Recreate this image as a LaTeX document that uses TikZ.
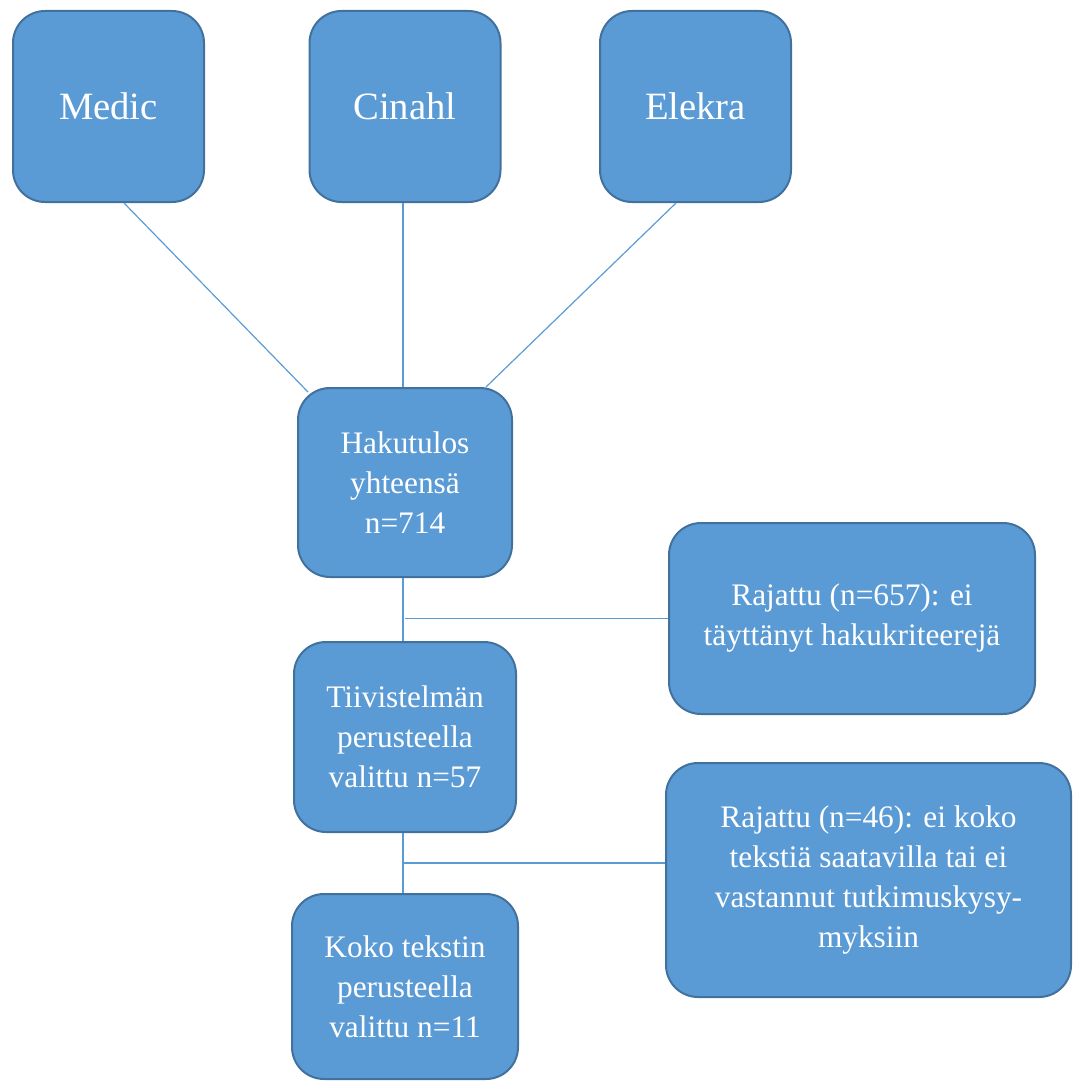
\documentclass[tikz,border=0pt]{standalone}
\usepackage{fontspec}
\setmainfont{Liberation Serif}
\usetikzlibrary{calc}
\definecolor{boxfill}{HTML}{5B9BD5}
\definecolor{boxline}{HTML}{41719C}
\def\px{0.75pt}

\tikzset{
  box/.style={draw=boxline, line width=1.5pt, fill=boxfill, rounded corners=24pt,
    text=white, align=center, inner sep=0pt,
    font=\fontsize{23.5}{30}\selectfont},
  dbbox/.style={box, minimum width=191*\px, minimum height=191*\px,
    font=\fontsize{29}{34}\selectfont},
  link/.style={draw=boxfill, line width=0.9pt}
}

\begin{document}
\begin{tikzpicture}[x=\px,y=-\px]
\useasboundingbox (0,0) rectangle (1075,1081);

% databases
\node[dbbox] (medic) at (108.5,106.5) {Medic};
\node[dbbox] (cinahl) at (405,106.5) {Cinahl};
\node[dbbox] (elekra) at (695.5,106.5) {Elekra};

% flow
\node[box, minimum width=214*\px, minimum height=189*\px] (hak) at (405,482.5) {Hakutulos\\yhteensä\\n=714};
\node[box, minimum width=222*\px, minimum height=190*\px] (tiiv) at (405,737) {Tiivistelmän\\perusteella\\valittu n=57};
\node[box, minimum width=226*\px, minimum height=185*\px] (koko) at (405,986.5) {Koko tekstin\\perusteella\\valittu n=11};

% rajatut
\node[box, minimum width=366*\px, minimum height=191*\px] (raj1) at (852,618.5) {Rajattu (n=657): ei\\täyttänyt hakukriteerejä};
\node[box, minimum width=405*\px, minimum height=234*\px] (raj2) at (868.5,880) {Rajattu (n=46): ei koko\\tekstiä saatavilla tai ei\\vastannut tutkimuskysy-\\myksiin};

\draw[link] ($(medic.south)+(15.5,0)$) -- ($(hak.north west)+(11,5)$);
\draw[link] ($(cinahl.south)+(-2,0)$) -- ($(hak.north)+(-2,0)$);
\draw[link] ($(elekra.south)+(-19.5,0)$) -- ($(hak.north east)+(-27,0)$);

\draw[link] ($(hak.south)+(-2,0)$) -- ($(tiiv.north)+(-2,0)$);
\draw[link] (raj1.west) -- (raj1.west -| tiiv.north);

\coordinate (m2) at ($(tiiv.south)!0.5!(koko.north)+(-2,0)$);
\draw[link] ($(tiiv.south)+(-2,0)$) -- ($(koko.north)+(-2,0)$);
\draw[link] (m2) -- (m2 -| raj2.west);

\end{tikzpicture}
\end{document}
